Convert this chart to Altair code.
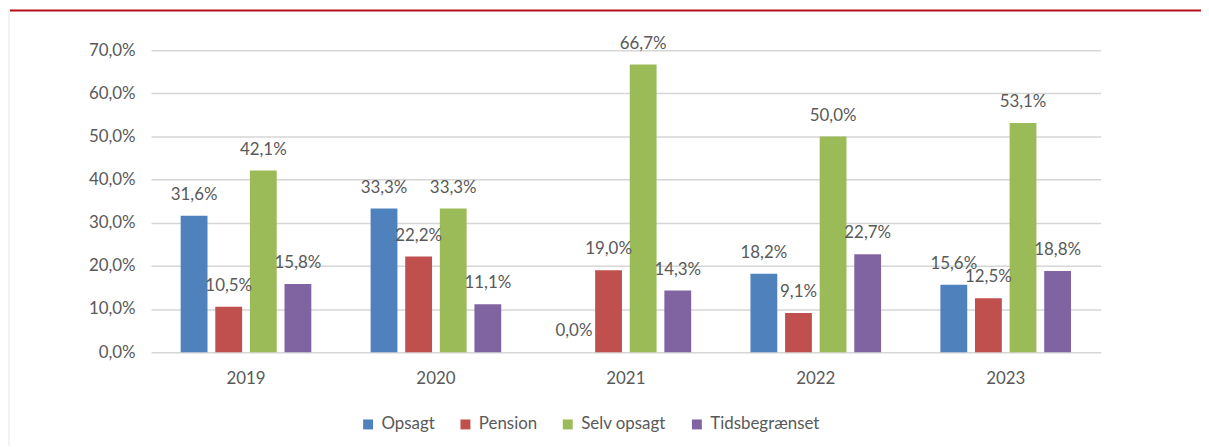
import altair as alt
import pandas as pd

years = ["2019", "2020", "2021", "2022", "2023"]
series = ["Opsagt", "Pension", "Selv opsagt", "Tidsbegrænset"]
opsagt = [31.6, 33.3, 0.0, 18.2, 15.6]
pension = [10.5, 22.2, 19.0, 9.1, 12.5]
selv_opsagt = [42.1, 33.3, 66.7, 50.0, 53.1]
tidsbegraenset = [15.8, 11.1, 14.3, 22.7, 18.8]
colors = ["#4F81BD", "#C0504D", "#9BBB59", "#8064A2"]
y_ticks = [0, 10, 20, 30, 40, 50, 60, 70]

rows = []
for s, vals in zip(series, [opsagt, pension, selv_opsagt, tidsbegraenset]):
    for y, v in zip(years, vals):
        rows.append({"year": y, "series": s, "value": v})
df = pd.DataFrame(rows)

FONT = "Lato"
TXT = "#595959"
FS = 17

x_enc = alt.X("year:N", sort=years, title=None,
              scale=alt.Scale(paddingInner=0.314, paddingOuter=0.157),
              axis=alt.Axis(labelAngle=0, labelFontSize=FS, labelColor=TXT, labelFont=FONT,
                            labelPadding=19, ticks=False, domain=False, grid=False))
xoff = alt.XOffset("series:N", sort=series, scale=alt.Scale(paddingInner=0.235, paddingOuter=0))
y_enc = alt.Y("value:Q", title=None,
              scale=alt.Scale(domain=[0, 70], nice=False),
              axis=alt.Axis(values=y_ticks, labelFontSize=FS, labelColor=TXT, labelFont=FONT,
                            labelPadding=16, ticks=False, domain=False, grid=True,
                            gridColor="#d6d6d6", gridWidth=1.5,
                            labelExpr="replace(format(datum.value, '.1f'), '.', ',') + '%'"))

base = alt.Chart(df)

bars = base.mark_bar(size=27).encode(
    x=x_enc, xOffset=xoff, y=y_enc,
    color=alt.Color("series:N", sort=series,
                    scale=alt.Scale(domain=series, range=colors),
                    legend=alt.Legend(title=None, orient="none", direction="horizontal",
                                      legendX=210, legendY=368, padding=0,
                                      symbolType="square", symbolSize=100, symbolStrokeWidth=0,
                                      labelFontSize=FS, labelColor=TXT, labelFont=FONT,
                                      labelOffset=5, columnPadding=22)),
)

labels = base.transform_calculate(
    lab="replace(format(datum.value, '.1f'), '.', ',') + '%'"
).mark_text(font=FONT, fontSize=FS, color=TXT, baseline="alphabetic", dy=-16).encode(
    x=alt.X("year:N", sort=years), xOffset=alt.XOffset("series:N", sort=series),
    y=alt.Y("value:Q"), text="lab:N",
)

deco = pd.DataFrame({"k": [0]})
red_bar = alt.Chart(deco).mark_rect(color="#B20E16").encode(
    x=alt.value(-142), x2=alt.value(1057), y=alt.value(-41), y2=alt.value(-39))
grey_strip = alt.Chart(deco).mark_rect(color="#F0F2F4").encode(
    x=alt.value(-144), x2=alt.value(-142), y=alt.value(-41), y2=alt.value(398))

chart = alt.layer(bars, labels, red_bar, grey_strip).properties(
    width=956, height=304,
    autosize=alt.AutoSizeParams(type="none"),
    padding={"left": 144, "top": 41, "right": 101, "bottom": 94},
    background="white",
).configure_view(stroke=None)

chart.save("out.html", embed_options={"renderer": "svg", "actions": False})
